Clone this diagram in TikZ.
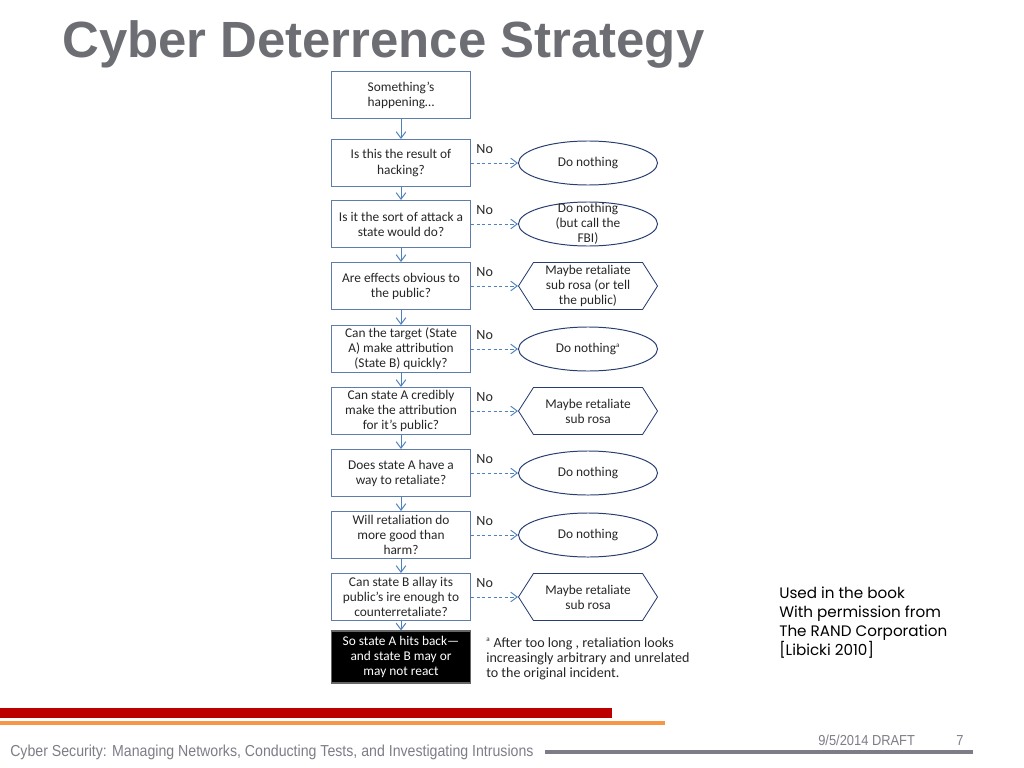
\documentclass[tikz,border=0pt]{standalone}
\usepackage{fontspec}
\usepackage{xcolor}
\usepackage{tikz}
\usetikzlibrary{arrows.meta, shapes.geometric, shapes.symbols}
\setmainfont{Carlito}
\newfontfamily\titlefont{Liberation Sans}
\newfontfamily\footfont[FakeStretch=0.89]{Liberation Sans}
\newfontfamily\notefont{Poppins}
\definecolor{boxline}{RGB}{95,125,170}
\definecolor{flowblue}{RGB}{79,129,189}
\definecolor{ellline}{RGB}{40,62,112}
\definecolor{titlegray}{RGB}{109,110,115}
\definecolor{barred}{RGB}{188,0,0}
\definecolor{barorange}{RGB}{247,150,70}
\definecolor{footgray}{RGB}{125,125,135}
\tikzset{
  qbox/.style={rectangle, draw=boxline, line width=0.8pt, fill=white, align=center,
               minimum width=3.475cm, minimum height=1.175cm, inner sep=1pt,
               font=\fontsize{9.5}{10.7}\selectfont, text=black!85},
  endbox/.style={qbox, fill=black, draw=black!60, text=white,
                 minimum height=1.3cm},
  nothing/.style={ellipse, draw=ellline, line width=0.7pt, align=center,
                  minimum width=3.475cm, minimum height=1.1cm, inner sep=0pt,
                  font=\fontsize{9.5}{10.7}\selectfont, text=black!85},
  maybe/.style={signal, signal to=west and east, signal pointer angle=115,
                draw=ellline, line width=0.6pt, align=center,
                minimum width=3.475cm, minimum height=1.175cm, inner sep=0pt,
                font=\fontsize{9.5}{10.7}\selectfont, text=black!85},
  inlbl/.style={font=\fontsize{9.5}{10.7}\selectfont, text=black!85, align=center},
  flow/.style={-{Straight Barb[length=1.6mm, width=2.4mm]}, line width=0.7pt, draw=flowblue},
  noflow/.style={flow, dashed, dash pattern=on 2.2pt off 1.8pt},
  nolbl/.style={font=\fontsize{10}{11}\selectfont, text=black!85},
}

\begin{document}
\begin{tikzpicture}[x=0.025cm, y=-0.025cm]
  \useasboundingbox (0,0) rectangle (1024,768);
  % title
  \node[anchor=base west, inner sep=0pt, text=titlegray,
        font=\titlefont\bfseries\fontsize{36.2}{40}\selectfont] (title) at (62,58) {Cyber Deterrence Strategy};
  % questions
  \node[qbox] (q1) at (401,95)  {Something's\\happening\dots};
  \node[qbox] (q2) at (401,163) {Is this the result of\\hacking?};
  \node[qbox] (q3) at (401,224) {Is it the sort of attack a\\state would do?};
  \node[qbox] (q4) at (401,286) {Are effects obvious to\\the public?};
  \node[qbox] (q5) at (401,349) {Can the target (State\\A) make attribution\\(State B) quickly?};
  \node[qbox] (q6) at (401,411) {Can state A credibly\\make the attribution\\for it's public?};
  \node[qbox] (q7) at (401,473) {Does state A have a\\way to retaliate?};
  \node[qbox] (q8) at (401,535) {Will retaliation do\\more good than\\harm?};
  \node[qbox] (q9) at (401,597) {Can state B allay its\\public's ire enough to\\counterretaliate?};
  \node[endbox] (act) at (401,657) {So state A hits back---\\and state B may or\\may not react};
  % outcomes
  \node[nothing] (r2) at (588,163) {Do nothing};
  \node[nothing, label={[inlbl]center:Do nothing\\(but call the\\FBI)}] (r3) at (588,224) {};
  \node[maybe, label={[inlbl]center:Maybe retaliate\\sub rosa (or tell\\the public)}] (r4) at (588,286) {};
  \node[nothing] (r5) at (588,349) {Do nothing\textsuperscript{\tiny a}};
  \node[maybe] (r6) at (588,411) {Maybe retaliate\\sub rosa};
  \node[nothing] (r7) at (588,473) {Do nothing};
  \node[nothing] (r8) at (588,535) {Do nothing};
  \node[maybe] (r9) at (588,597) {Maybe retaliate\\sub rosa};
  % connectors
  \draw[flow] (q1) -- (q2); \draw[flow] (q2) -- (q3); \draw[flow] (q3) -- (q4);
  \draw[flow] (q4) -- (q5); \draw[flow] (q5) -- (q6); \draw[flow] (q6) -- (q7);
  \draw[flow] (q7) -- (q8); \draw[flow] (q8) -- (q9); \draw[flow] (q9) -- (act);
  \foreach \i in {2,...,9} {
    \draw[noflow] (q\i.east) -- (r\i.west) node[nolbl, midway, above=3pt, xshift=-7pt] {No};
  }
  % notes
  \node[anchor=north west, align=left, inner sep=0pt, text=black!85,
        font=\fontsize{10}{11}\selectfont] (fn) at (486,637)
        {\textsuperscript{\tiny a} After too long , retaliation looks\\increasingly arbitrary and unrelated\\to the original incident.};
  \node[anchor=north west, align=left, inner sep=0pt, text=black,
        font=\notefont\fontsize{10.8}{13.5}\selectfont] (src) at (779,587)
        {Used in the book\\With permission from\\The RAND Corporation\\{[}Libicki 2010{]}};
  % footer
  \fill[barred] (0,708) rectangle (612,718);
  \fill[barorange] (0,721) rectangle (665,725);
  \node[anchor=base west, inner sep=0pt, text=footgray,
        font=\footfont\fontsize{11.3}{12}\selectfont] (foot) at (10,756)
        {Cyber Security: Managing Networks, Conducting Tests, and Investigating Intrusions};
  \node[anchor=base west, inner sep=0pt, text=footgray,
        font=\footfont\fontsize{10.3}{11}\selectfont] (date) at (818,745) {9/5/2014 DRAFT};
  \node[anchor=base west, inner sep=0pt, text=footgray,
        font=\footfont\fontsize{10.3}{11}\selectfont] (page) at (956,745) {7};
  \draw[footgray, line width=2.8pt] (545,752) -- (973,752);
\end{tikzpicture}
\end{document}
